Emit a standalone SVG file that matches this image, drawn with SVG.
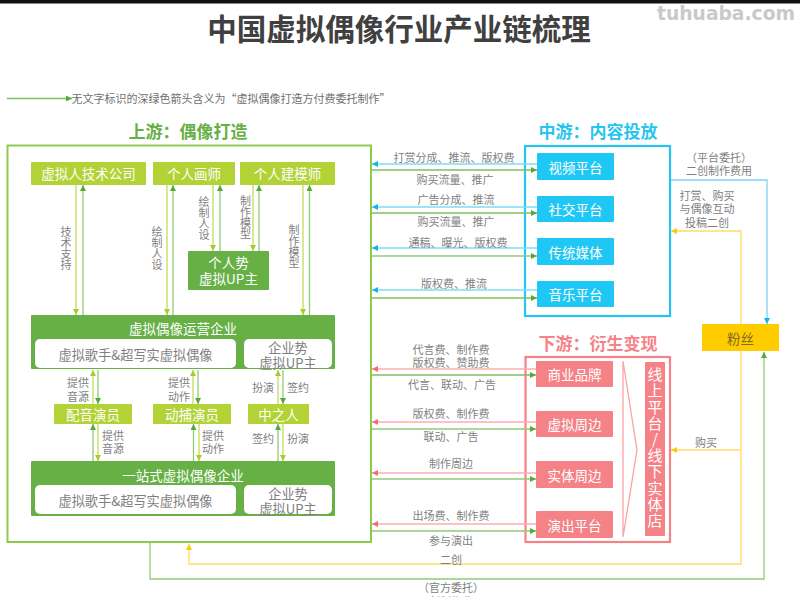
<svg xmlns="http://www.w3.org/2000/svg" width="800" height="597" viewBox="0 0 800 597">
<style>
text{font-family:"Noto Sans CJK SC","Liberation Sans",sans-serif;text-anchor:middle;dominant-baseline:central}
.l{font-size:11px;fill:#7f7f7f}
.v{font-size:11px;fill:#7f7f7f;writing-mode:vertical-rl;text-orientation:upright}
.n{font-size:13.500px;fill:#fff}
.d{font-size:13.200px;fill:#7f7f7f}
.h{font-size:17px;font-weight:700}
.lime{fill:#b2d235}.grn{fill:#66b045}.blu{fill:#1fc8f4}.red{fill:#f58287}
.f{fill:none;stroke-width:1.3}
.s1{stroke:#c3de5a}.s2{stroke:#8fcb78}.s3{stroke:#7fdcf8}.s4{stroke:#fbaeb1}.s5{stroke:#ffdc66}
.s6{stroke:#7cc05c}.s7{stroke:#7fd0f5}
</style>
<defs>
<marker id="al" markerWidth="7" markerHeight="7" refX="6" refY="3" orient="auto" markerUnits="userSpaceOnUse"><path d="M0 0L6 3L0 6Z" fill="#a8cc2c"/></marker>
<marker id="ag" markerWidth="7" markerHeight="7" refX="6" refY="3" orient="auto" markerUnits="userSpaceOnUse"><path d="M0 0L6 3L0 6Z" fill="#55a83a"/></marker>
<marker id="ab" markerWidth="7" markerHeight="7" refX="6" refY="3" orient="auto" markerUnits="userSpaceOnUse"><path d="M0 0L6 3L0 6Z" fill="#12b5ea"/></marker>
<marker id="ar" markerWidth="7" markerHeight="7" refX="6" refY="3" orient="auto" markerUnits="userSpaceOnUse"><path d="M0 0L6 3L0 6Z" fill="#f26d75"/></marker>
<marker id="ay" markerWidth="7" markerHeight="7" refX="6" refY="3" orient="auto" markerUnits="userSpaceOnUse"><path d="M0 0L6 3L0 6Z" fill="#ffc800"/></marker>
</defs>
<rect x="0" y="0" width="800" height="597" fill="#fff"/>
<rect x="0" y="0" width="800" height="3.500" fill="#111"/>
<text x="399" y="27" font-size="29.500" font-weight="700" fill="#404040">中国虚拟偶像行业产业链梳理</text>
<text x="726" y="13.500" style="font-family:'DejaVu Sans',sans-serif" font-size="18.700" font-weight="700" fill="#c9c9c9">tuhuaba.com</text>
<g id="legend">
<line x1="7" y1="98.500" x2="72" y2="98.500" class="f s6" marker-end="url(#ag)"/>
<text x="231" y="98" font-size="11" fill="#6f6f6f">无文字标识的深绿色箭头含义为“虚拟偶像打造方付费委托制作”</text>
</g>
<text class="h" x="188" y="130.500" fill="#66b045">上游：偶像打造</text>
<text class="h" x="598" y="130.500" fill="#25c5f0">中游：内容投放</text>
<text class="h" x="598" y="342" fill="#f58287">下游：衍生变现</text>
<g id="upstream"><rect x="7.500" y="145.500" width="363.500" height="396.500" fill="none" stroke="#8fcb4a" stroke-width="2"/></g>
<g id="midstream"><rect x="525" y="146" width="145" height="170" fill="none" stroke="#25c5f0" stroke-width="2.200"/></g>
<g id="downstream"><rect x="525.500" y="357" width="144.500" height="185" fill="none" stroke="#f58287" stroke-width="2.200"/></g>
<g id="connectors">
<path class="f s1" d="M76 185V315" marker-end="url(#al)"/><path class="f s2" d="M83 315V185" marker-end="url(#ag)"/>
<path class="f s1" d="M167 185V315" marker-end="url(#al)"/><path class="f s2" d="M173 315V185" marker-end="url(#ag)"/>
<path class="f s1" d="M213 185V251" marker-end="url(#al)"/><path class="f s2" d="M220 251V185" marker-end="url(#ag)"/>
<path class="f s1" d="M253 185V251" marker-end="url(#al)"/><path class="f s2" d="M259 251V185" marker-end="url(#ag)"/>
<path class="f s1" d="M303 185V315" marker-end="url(#al)"/><path class="f s2" d="M309.500 315V185" marker-end="url(#ag)"/>
<path class="f s1" d="M93 404V370" marker-end="url(#al)"/><path class="f s2" d="M98 370V404" marker-end="url(#ag)"/>
<path class="f s1" d="M193 404V370" marker-end="url(#al)"/><path class="f s2" d="M198 370V404" marker-end="url(#ag)"/>
<path class="f s1" d="M278 404V370" marker-end="url(#al)"/><path class="f s2" d="M283 370V404" marker-end="url(#ag)"/>
<path class="f s2" d="M93 461V424" marker-end="url(#ag)"/><path class="f s1" d="M98 424V461" marker-end="url(#al)"/>
<path class="f s2" d="M193.500 461V424" marker-end="url(#ag)"/><path class="f s1" d="M199 424V461" marker-end="url(#al)"/>
<path class="f s2" d="M278 461V424" marker-end="url(#ag)"/><path class="f s1" d="M283 424V461" marker-end="url(#al)"/>
<path class="f s3" d="M537 164H372" marker-end="url(#ab)"/><path class="f s6" d="M372 170H537" marker-end="url(#ag)"/>
<path class="f s3" d="M537 207H372" marker-end="url(#ab)"/><path class="f s6" d="M372 213H537" marker-end="url(#ag)"/>
<path class="f s3" d="M537 248H372" marker-end="url(#ab)"/><path class="f s2" d="M372 256H537" marker-end="url(#ag)"/>
<path class="f s3" d="M537 290H372" marker-end="url(#ab)"/><path class="f s6" d="M372 298H537" marker-end="url(#ag)"/>
<path class="f s4" d="M536 369H372" marker-end="url(#ar)"/><path class="f s6" d="M372 375H536" marker-end="url(#ag)"/>
<path class="f s4" d="M536 422H372" marker-end="url(#ar)"/><path class="f s2" d="M372 429H536" marker-end="url(#ag)"/>
<path class="f s4" d="M536 473H372" marker-end="url(#ar)"/><path class="f s2" d="M372 479H536" marker-end="url(#ag)"/>
<path class="f s4" d="M536 524H372" marker-end="url(#ar)"/><path class="f s2" d="M372 531H536" marker-end="url(#ag)"/>
<path class="f s7" d="M671 180H767V324" marker-end="url(#ab)"/>
<path class="f s5" d="M741 324V231H671" marker-end="url(#ay)"/>
<path class="f s5" d="M741 351V564H189V544" marker-end="url(#ay)"/>
<path class="f s5" d="M741 450H671" marker-end="url(#ay)"/>
<path class="f s2" d="M150 543V579H764V352" marker-end="url(#ag)"/>
</g>
<g id="n-tech"><rect class="lime" x="31" y="162" width="115" height="23" rx="1"/><text class="n" x="88.500" y="173">虚拟人技术公司</text></g>
<g id="n-painter"><rect class="lime" x="153" y="162" width="82" height="23" rx="1"/><text class="n" x="194" y="173">个人画师</text></g>
<g id="n-modeler"><rect class="lime" x="240" y="162" width="95" height="23" rx="1"/><text class="n" x="287.500" y="173">个人建模师</text></g>
<g id="n-personal"><rect class="grn" x="188" y="251" width="81" height="39" rx="1"/><text class="n"><tspan x="228.500" y="262">个人势</tspan><tspan x="228.500" y="278">虚拟UP主</tspan></text></g>
<g id="n-operator"><rect class="grn" x="31" y="315" width="304" height="54" rx="1"/><text class="n" x="183" y="328">虚拟偶像运营企业</text>
<rect x="35" y="339" width="201" height="29" rx="5" fill="#fff"/><text class="d" x="135.500" y="354">虚拟歌手&amp;超写实虚拟偶像</text>
<rect x="244" y="339" width="88" height="29" rx="5" fill="#fff"/><text class="d"><tspan x="288" y="347">企业势</tspan><tspan x="288" y="362">虚拟UP主</tspan></text></g>
<g id="n-voice"><rect class="lime" x="54" y="404" width="78" height="20" rx="1"/><text class="n" x="93" y="413.500">配音演员</text></g>
<g id="n-mocap"><rect class="lime" x="153" y="404" width="78" height="20" rx="1"/><text class="n" x="192" y="413.500">动捕演员</text></g>
<g id="n-zhongzhiren"><rect class="lime" x="248" y="404" width="61" height="20" rx="1"/><text class="n" x="278.500" y="413.500">中之人</text></g>
<g id="n-onestop"><rect class="grn" x="31" y="461" width="304" height="55" rx="1"/><text class="n" x="183" y="474.500">一站式虚拟偶像企业</text>
<rect x="35" y="485" width="201" height="29" rx="5" fill="#fff"/><text class="d" x="135.500" y="500">虚拟歌手&amp;超写实虚拟偶像</text>
<rect x="244" y="485" width="88" height="29" rx="5" fill="#fff"/><text class="d"><tspan x="288" y="493">企业势</tspan><tspan x="288" y="508">虚拟UP主</tspan></text></g>
<g id="n-video"><rect class="blu" x="537" y="153" width="77" height="27" rx="1"/><text class="n" x="575.500" y="166.500">视频平台</text></g>
<g id="n-social"><rect class="blu" x="537" y="196" width="77" height="26" rx="1"/><text class="n" x="575.500" y="209">社交平台</text></g>
<g id="n-media"><rect class="blu" x="537" y="238" width="77" height="27" rx="1"/><text class="n" x="575.500" y="251.500">传统媒体</text></g>
<g id="n-music"><rect class="blu" x="537" y="281" width="77" height="26" rx="1"/><text class="n" x="575.500" y="294">音乐平台</text></g>
<g id="n-brand"><rect class="red" x="536" y="361" width="77" height="26" rx="1"/><text class="n" x="574.500" y="374">商业品牌</text></g>
<g id="n-virtual"><rect class="red" x="536" y="411" width="77" height="26" rx="1"/><text class="n" x="574.500" y="424">虚拟周边</text></g>
<g id="n-physical"><rect class="red" x="536" y="461" width="77" height="27" rx="1"/><text class="n" x="574.500" y="474.500">实体周边</text></g>
<g id="n-show"><rect class="red" x="536" y="511" width="77" height="27" rx="1"/><text class="n" x="574.500" y="524.500">演出平台</text></g>
<g id="n-chevron"><path d="M623 361L637 450L623 537Z" fill="none" stroke="#f9a3a7" stroke-width="1.300"/></g>
<g id="n-channel"><rect class="red" x="645" y="362" width="20" height="174" rx="1"/>
<text x="655" y="448" font-size="15" fill="#fff" style="writing-mode:vertical-rl;text-orientation:upright;letter-spacing:1.200px">线上平台/线下实体店</text></g>
<g id="n-fans"><rect x="702" y="324" width="77" height="27" fill="#ffcc00"/><text x="740.500" y="337.500" font-size="13.500" fill="#7f6a20">粉丝</text></g>
<g id="labels">
<text class="v" x="66" y="248.500">技术支持</text>
<text class="v" x="157" y="248.500">绘制人设</text>
<text class="v" x="204" y="218">绘制人设</text>
<text class="v" x="245.500" y="217.500">制作模型</text>
<text class="v" x="294" y="246.500">制作模型</text>
<text class="l"><tspan x="78" y="382">提供</tspan><tspan x="78" y="396">音源</tspan></text>
<text class="l"><tspan x="179" y="382">提供</tspan><tspan x="179" y="396">动作</tspan></text>
<text class="l" x="263" y="387">扮演</text><text class="l" x="298" y="387">签约</text>
<text class="l"><tspan x="113" y="435">提供</tspan><tspan x="113" y="448">音源</tspan></text>
<text class="l"><tspan x="213" y="435">提供</tspan><tspan x="213" y="448">动作</tspan></text>
<text class="l" x="263" y="438">签约</text><text class="l" x="298" y="438">扮演</text>
<text class="l" x="454" y="157">打赏分成、推流、版权费</text><text class="l" x="455" y="179">购买流量、推广</text>
<text class="l" x="456" y="199">广告分成、推流</text><text class="l" x="456" y="221">购买流量、推广</text>
<text class="l" x="458" y="241.500">通稿、曝光、版权费</text><text class="l" x="454" y="283">版权费、推流</text>
<text class="l"><tspan x="451" y="349">代言费、制作费</tspan><tspan x="451" y="362">版权费、赞助费</tspan></text><text class="l" x="452" y="384">代言、联动、广告</text>
<text class="l" x="451" y="413">版权费、制作费</text><text class="l" x="451" y="436">联动、广告</text><text class="l" x="451" y="463">制作周边</text>
<text class="l" x="451" y="515">出场费、制作费</text><text class="l" x="451" y="540">参与演出</text><text class="l" x="451" y="559">二创</text>
<text class="l"><tspan x="451" y="587">（官方委托）</tspan><tspan x="451" y="600.500">二创制作费用</tspan></text>
<text class="l"><tspan x="719" y="157">（平台委托）</tspan><tspan x="719" y="170">二创制作费用</tspan></text>
<text class="l"><tspan x="707" y="195">打赏、购买</tspan><tspan x="707" y="208">与偶像互动</tspan><tspan x="707" y="222">投稿二创</tspan></text>
<text class="l" x="706" y="442">购买</text>
</g>
</svg>
